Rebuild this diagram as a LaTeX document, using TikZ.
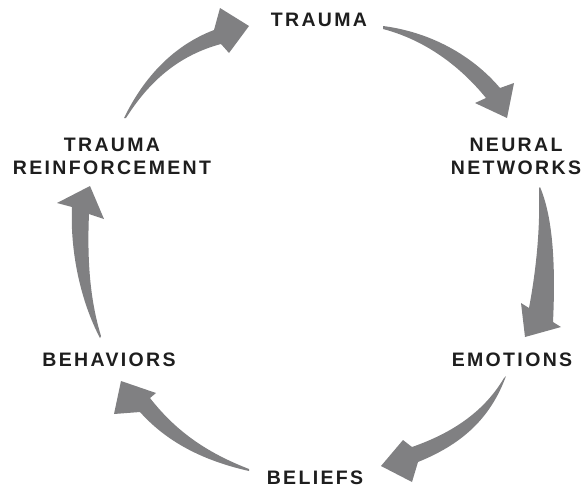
\documentclass[tikz,border=0pt]{standalone}
\usepackage{fontspec}
\setmainfont{Liberation Sans}
\newfontfamily\labelfont[LetterSpace=12]{Liberation Sans}
\definecolor{arrowgray}{HTML}{808082}
\definecolor{labelink}{HTML}{1E1E1E}
\tikzset{
  lbl/.style={font=\labelfont\fontsize{19.5}{23.5}\selectfont\bfseries, text=labelink, align=center, inner sep=0pt},
  fatarrow/.style={fill=arrowgray, draw=none}
}
\begin{document}
\begin{tikzpicture}[x=1pt,y=-1pt]
\useasboundingbox (0,0) rectangle (586,490);
% labels
\node[lbl] (trauma) at (319,20) {TRAUMA};
\node[lbl] (neural) at (516,156.5) {NEURAL\\NETWORKS};
\node[lbl] (emotions) at (512,359.5) {EMOTIONS};
\node[lbl] (beliefs) at (315,478) {BELIEFS};
\node[lbl] (behaviors) at (109,359.5) {BEHAVIORS};
\node[lbl] (reinf) at (112,156.5) {TRAUMA\\REINFORCEMENT};
% arrow 1: trauma -> neural networks
\fill[fatarrow] (383,26) .. controls (430,32) and (472,55) .. (500,88)
  -- (514,83) -- (507,118) -- (475,103) -- (486,98)
  .. controls (460,66) and (425,40) .. (383,29) -- cycle;
% arrow 2: neural networks -> emotions
\fill[fatarrow] (540,187) .. controls (552,215) and (556,260) .. (553,322)
  -- (561,327) -- (525,337) -- (521,303) -- (529,308)
  .. controls (538,260) and (540,220) .. (539,188) -- cycle;
% arrow 3: emotions -> beliefs
\fill[fatarrow] (506,376) .. controls (490,420) and (460,445) .. (418,462)
  -- (412,482) -- (381,466) -- (403,440) -- (412,447)
  .. controls (455,432) and (485,410) .. (504,378) -- cycle;
% arrow 4: beliefs -> behaviors
\fill[fatarrow] (249,471) .. controls (200,460) and (165,440) .. (140,412)
  -- (114,414) -- (121,381) -- (156,393) -- (150,398)
  .. controls (175,430) and (205,452) .. (249,469) -- cycle;
% arrow 5: behaviors -> trauma reinforcement
\fill[fatarrow] (100,338) .. controls (80,300) and (70,250) .. (72,207)
  -- (57,203) -- (90,186) -- (104,219) -- (89,214)
  .. controls (87,260) and (90,300) .. (101,336) -- cycle;
% arrow 6: trauma reinforcement -> trauma
\fill[fatarrow] (124,118) .. controls (145,75) and (175,45) .. (214,30)
  -- (220,8) -- (249,26) -- (229,53) -- (221,44)
  .. controls (180,55) and (150,80) .. (126,118) -- cycle;
\end{tikzpicture}
\end{document}
